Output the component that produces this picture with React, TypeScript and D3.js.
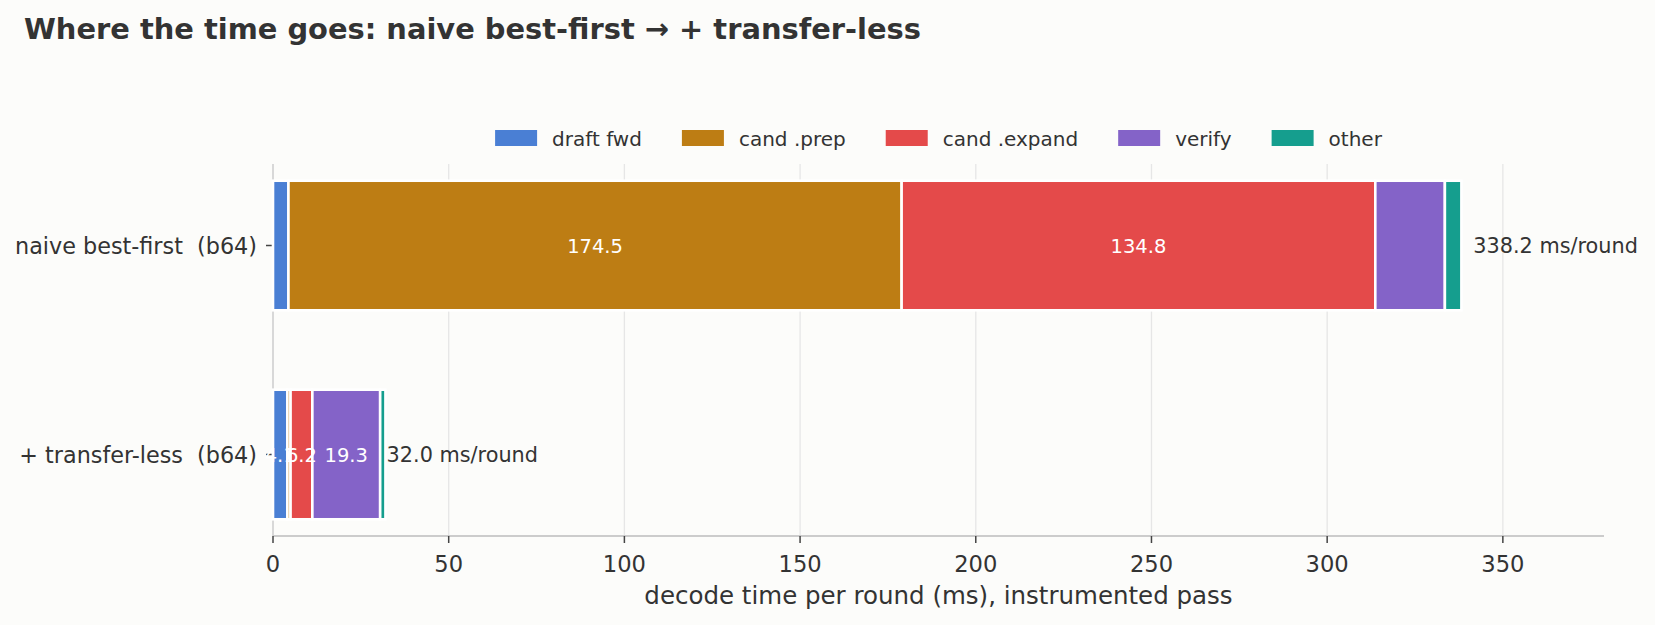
import React from 'react';
import * as d3 from 'd3';

const titleText = 'Where the time goes: naive best-first \u2192 + transfer-less';
const xLabelText = 'decode time per round (ms), instrumented pass';
const categories = ['naive best-first  (b64)', '+ transfer-less  (b64)'];
const components = ['draft fwd', 'cand .prep', 'cand .expand', 'verify', 'other'];
const colors = ['#4a7fd4', '#bd7d14', '#e44a4a', '#8463c8', '#159e8e'];
const draftFwd = [4.4, 4.1];
const candPrep = [174.5, 0.9];
const candExpand = [134.8, 6.2];
const verify = [19.8, 19.3];
const other = [4.7, 1.5];
const xTicks = [0, 50, 100, 150, 200, 250, 300, 350];

const W = 1655;
const H = 625;
const FONT = 'DejaVu Sans, Verdana, sans-serif';
const TXT = '#333333';

function measure(text: string, size: number, weight = 'normal'): number {
  if (typeof document === 'undefined') return text.length * size * 0.6;
  const c = document.createElement('canvas');
  const ctx = c.getContext('2d');
  if (!ctx) return text.length * size * 0.6;
  ctx.font = `${weight} ${size}px "DejaVu Sans"`;
  return ctx.measureText(text).width;
}

export default function App() {
  const rows = categories.map((c, i) => ({
    cat: c,
    'draft fwd': draftFwd[i],
    'cand .prep': candPrep[i],
    'cand .expand': candExpand[i],
    verify: verify[i],
    other: other[i],
  }));
  const totals = rows.map((_, i) => draftFwd[i] + candPrep[i] + candExpand[i] + verify[i] + other[i]);
  const stacked = d3.stack<any>().keys(components)(rows);

  const xMax = d3.max(totals)! * 1.12;
  const x = d3.scaleLinear().domain([0, xMax]).range([273, 1604]);
  const y = d3.scaleLinear().domain([-0.39, 1.39]).range([164, 536]);
  const barH = 0.62;
  const color = d3.scaleOrdinal<string, string>().domain(components).range(colors);

  // legend layout
  const legFont = 20;
  const swW = 42, swH = 16, swGap = 15, itemGap = 40;
  const widths = components.map((c) => measure(c, legFont));
  const total = d3.sum(widths) + components.length * (swW + swGap) + (components.length - 1) * itemGap;
  const legCenter = (x.range()[0] + x.range()[1]) / 2;
  let cursor = legCenter - total / 2;
  const legItems = components.map((c, i) => {
    const item = { c, sx: cursor, tx: cursor + swW + swGap };
    cursor += swW + swGap + widths[i] + itemGap;
    return item;
  });

  return (
    <svg
      width={W}
      height={H}
      viewBox={`0 0 ${W} ${H}`}
      style={{ position: 'absolute', left: 0, top: 0, display: 'block' }}
      fontFamily={FONT}
    >
      <rect x={0} y={0} width={W} height={H} fill="#fcfcfa" />
      <text x={24} y={38.5} fontSize={28.9} fontWeight="bold" fill={TXT}>
        {titleText}
      </text>

      {/* grid */}
      {xTicks.filter((t) => t > 0).map((t) => (
        <line key={t} x1={x(t)} x2={x(t)} y1={y(-0.39)} y2={y(1.39)} stroke="#e6e6e6" strokeWidth={1.3} />
      ))}

      {/* legend */}
      {legItems.map((it, i) => (
        <g key={it.c}>
          <rect x={it.sx} y={130} width={swW} height={swH} fill={colors[i]} />
          <text x={it.tx} y={146} fontSize={legFont} fill={TXT}>
            {it.c}
          </text>
        </g>
      ))}

      {/* spines */}
      <line x1={x(0)} x2={x(0)} y1={y(-0.39)} y2={y(1.39)} stroke="#cccccc" strokeWidth={1.5} />
      <line x1={x(0)} x2={x.range()[1]} y1={y(1.39)} y2={y(1.39)} stroke="#cccccc" strokeWidth={2} />

      {/* x ticks */}
      {xTicks.map((t) => (
        <g key={t}>
          <line x1={x(t)} x2={x(t)} y1={536} y2={543} stroke="#444444" strokeWidth={1.5} />
          <text x={x(t)} y={571.5} fontSize={22.6} fill={TXT} textAnchor="middle">
            {t}
          </text>
        </g>
      ))}
      <text x={legCenter} y={604} fontSize={24.5} fill={TXT} textAnchor="middle">
        {xLabelText}
      </text>

      {/* y ticks & labels */}
      {categories.map((c, i) => (
        <g key={c}>
          <line x1={266} x2={273} y1={y(i)} y2={y(i)} stroke="#444444" strokeWidth={1.5} />
          <text
            x={257}
            y={y(i)}
            dy="0.36em"
            fontSize={22.3}
            fill={TXT}
            textAnchor="end"
            style={{ whiteSpace: 'pre' }}
          >
            {c}
          </text>
        </g>
      ))}

      {/* bars */}
      {stacked.map((s) => (
        <g key={s.key} fill={color(s.key)}>
          {s.map((d, i) => (
            <rect
              key={i}
              x={x(d[0])}
              width={Math.max(0, x(d[1]) - x(d[0]))}
              y={y(i - barH / 2)}
              height={y(i + barH / 2) - y(i - barH / 2)}
              stroke="#ffffff"
              strokeWidth={2.6}
            />
          ))}
        </g>
      ))}

      {/* segment labels */}
      {stacked.map((s) =>
        s.map((d, i) => {
          const v = d[1] - d[0];
          if (v / totals[i] < 0.08) return null;
          return (
            <text
              key={s.key + i}
              x={x((d[0] + d[1]) / 2)}
              y={y(i)}
              dy="0.36em"
              fontSize={19.5}
              fill="#ffffff"
              textAnchor="middle"
            >
              {v.toFixed(1)}
            </text>
          );
        })
      )}

      {/* totals */}
      {totals.map((t, i) => (
        <text key={i} x={x(t + t * 0.01)} y={y(i)} dy="0.36em" fontSize={20.8} fill={TXT}>
          {`${t.toFixed(1)} ms/round`}
        </text>
      ))}
    </svg>
  );
}
